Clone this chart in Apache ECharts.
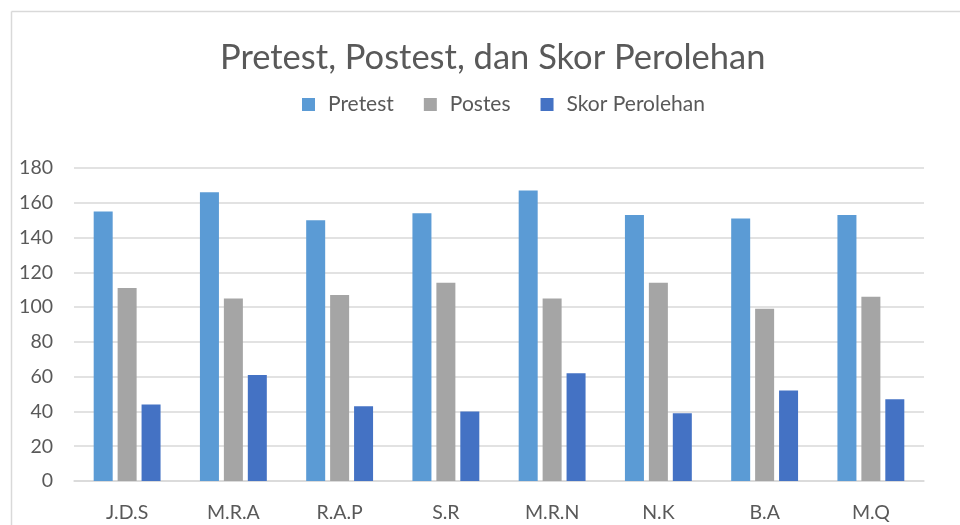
<!DOCTYPE html>
<html>
<head>
    <meta charset="utf-8">
    <title>Pretest, Postest, dan Skor Perolehan</title>
    <script src="https://cdn.jsdelivr.net/npm/echarts@6/dist/echarts.min.js"></script>
    <style type="text/css">
        html,body{margin:0;padding:0;background:#fff;}
        #main{width:960px;height:525px;}
    </style>
</head>
<body>
    <div id="main"></div>
    <script type="text/javascript">
        // data
        var names = ['J.D.S', 'M.R.A', 'R.A.P', 'S.R', 'M.R.N', 'N.K', 'B.A', 'M.Q'];
        var pretest = [155, 166, 150, 154, 167, 153, 151, 153];
        var postes = [111, 105, 107, 114, 105, 114, 99, 106];
        var skor = [44, 61, 43, 40, 62, 39, 52, 47];
        var seriesNames = ['Pretest', 'Postes', 'Skor Perolehan'];

        var font = 'Lato, "Open Sans", sans-serif';
        var myChart = echarts.init(document.getElementById('main'));
        var option = {
            animation: false,
            textStyle: {fontFamily: font},
            title: {
                text: 'Pretest, Postest, dan Skor Perolehan',
                left: 215,
                top: 35,
                textStyle: {fontFamily: font, fontSize: 34.5, fontWeight: 'normal', color: '#595959'}
            },
            legend: {
                data: seriesNames,
                top: 89,
                left: 297,
                itemWidth: 13,
                itemHeight: 13,
                itemGap: 30,
                icon: 'rect',
                textStyle: {fontFamily: font, fontSize: 21, color: '#595959', padding: [0, 0, 0, 8]}
            },
            // chart frame (left and top edges only visible)
            graphic: [
                {type: 'line', shape: {x1: 11.5, y1: 11.5, x2: 960, y2: 11.5}, style: {stroke: '#d9d9d9', lineWidth: 1.5}},
                {type: 'line', shape: {x1: 11.5, y1: 11.5, x2: 11.5, y2: 525}, style: {stroke: '#d9d9d9', lineWidth: 1.5}}
            ],
            grid: {left: 74, right: 36, top: 168, bottom: 44},
            xAxis: {
                type: 'category',
                data: names,
                axisTick: {show: false},
                axisLine: {lineStyle: {color: '#d9d9d9', width: 1.5}},
                axisLabel: {fontFamily: font, fontSize: 19.5, color: '#595959', margin: 22}
            },
            yAxis: {
                type: 'value',
                min: 0,
                max: 180,
                interval: 20,
                axisLine: {show: false},
                axisTick: {show: false},
                splitLine: {lineStyle: {color: '#d9d9d9', width: 1.5}},
                axisLabel: {fontFamily: font, fontSize: 19.5, color: '#595959', margin: 21}
            },
            series: [
                {name: seriesNames[0], type: 'bar', data: pretest, barWidth: 19, barGap: '26%', itemStyle: {color: '#5B9BD5'}},
                {name: seriesNames[1], type: 'bar', data: postes, barWidth: 19, barGap: '26%', itemStyle: {color: '#A5A5A5'}},
                {name: seriesNames[2], type: 'bar', data: skor, barWidth: 19, barGap: '26%', itemStyle: {color: '#4472C4'}}
            ]
        };
        myChart.setOption(option);
    </script>
</body>
</html>
